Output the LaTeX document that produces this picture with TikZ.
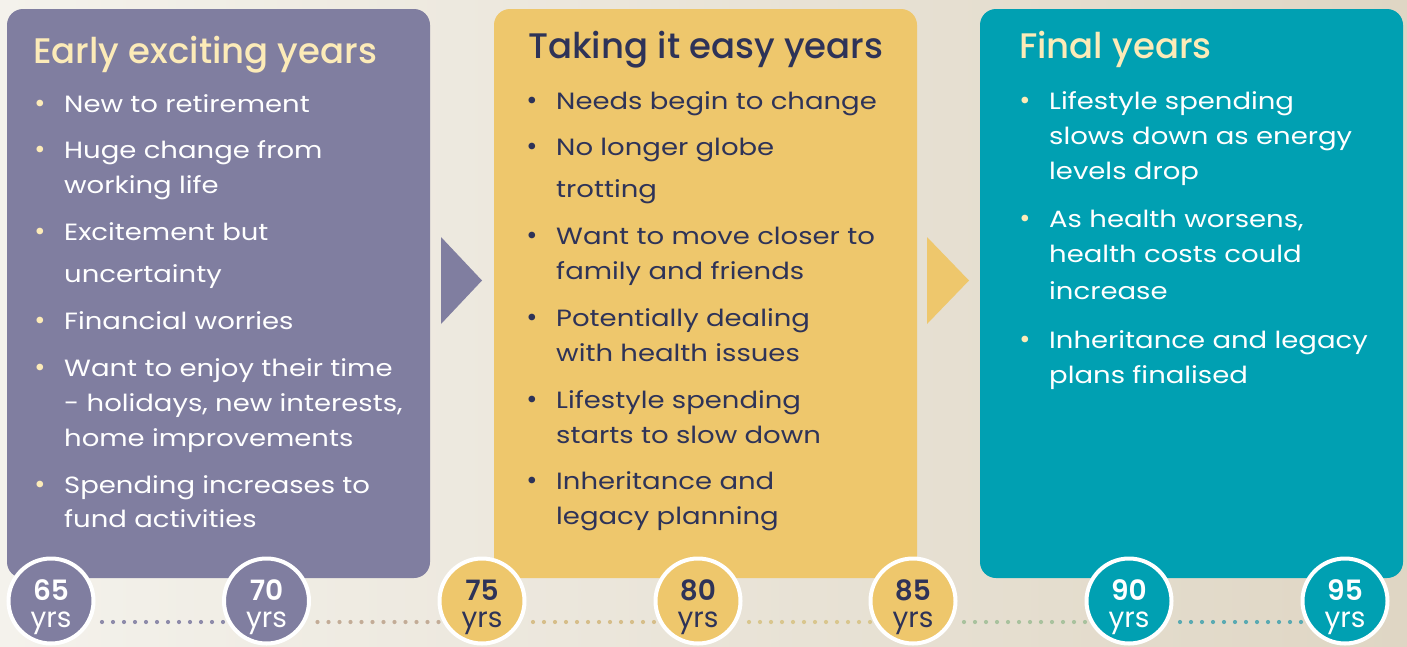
\documentclass[tikz,border=0pt]{standalone}
\usepackage{fontspec}
\setmainfont{Poppins}
\newfontfamily\bodyfont{Poppins}[FakeStretch=1.17]
\newfontfamily\titlefont{Poppins Medium}
\newfontfamily\numfont{Poppins SemiBold}
\usetikzlibrary{calc}
\definecolor{bgL}{HTML}{F4F2EC}
\definecolor{bgR}{HTML}{DFD6C4}
\definecolor{purp}{HTML}{807EA0}
\definecolor{yel}{HTML}{EEC76C}
\definecolor{tealc}{HTML}{00A0B2}
\definecolor{cream}{HTML}{FCEBB8}
\definecolor{navy}{HTML}{2E3358}
\definecolor{d1}{HTML}{8E8BAA}
\definecolor{d2}{HTML}{C3AC97}
\definecolor{d3}{HTML}{D6BE8A}
\definecolor{d4}{HTML}{D9C68E}
\definecolor{d5}{HTML}{A9C29E}
\definecolor{d6}{HTML}{5AAAB2}
\tikzset{
  txt/.style={anchor=base west, inner sep=0pt, font=\bodyfont\fontsize{23.5}{28}\selectfont},
  ttl/.style={anchor=base west, inner sep=0pt, font=\titlefont\fontsize{35.5}{40}\selectfont},
  bul/.style={anchor=base, inner sep=0pt, font=\fontsize{27}{30}\selectfont},
  agec/.style={circle, draw=white, line width=4pt, minimum size=85pt, inner sep=0pt},
  num/.style={anchor=base, inner sep=0pt, font=\numfont\fontsize{28}{30}\selectfont},
  yrs/.style={anchor=base, inner sep=0pt, font=\fontsize{28}{30}\selectfont},
  dots/.style={line width=4.2pt, line cap=round, dash pattern=on 0pt off 11pt},
}
\begin{document}
\begin{tikzpicture}[x=1pt,y=-1pt]
\useasboundingbox (0,0) rectangle (1407,646);
\shade[left color=bgL, right color=bgR] (0,0) rectangle (1407,646);
% boxes
\fill[purp, rounded corners=16pt] (7,9) rectangle (430,578);
\fill[yel, rounded corners=16pt] (494,9) rectangle (917,578);
\fill[yel] (494,300) rectangle (917,578);
\fill[tealc, rounded corners=16pt] (980,9) rectangle (1403,578);
% arrows
\fill[purp] (441,237) -- (482,280.5) -- (441,324) -- cycle;
\fill[yel] (927,237) -- (969,280.5) -- (927,324) -- cycle;
% purple column
\node[ttl, text=cream] (t1) at (33,63) {Early exciting years};
\begin{scope}[every node/.append style={text=white}]
\node[bul, text=cream] (p1b) at (40,112) {•};
\node[txt] (p1) at (64,112) {New to retirement};
\node[bul, text=cream] (p2b) at (40,158.5) {•};
\node[txt] (p2) at (64,158.5) {Huge change from};
\node[txt] (p2c) at (64,193.5) {working life};
\node[bul, text=cream] (p3b) at (40,240.5) {•};
\node[txt] (p3) at (64,240.5) {Excitement but};
\node[txt] (p3c) at (64,282.5) {uncertainty};
\node[bul, text=cream] (p4b) at (40,329.5) {•};
\node[txt] (p4) at (64,329.5) {Financial worries};
\node[bul, text=cream] (p5b) at (40,376.5) {•};
\node[txt] (p5) at (64,376.5) {Want to enjoy their time};
\node[txt] (p5c) at (64,411.5) {- holidays, new interests,};
\node[txt] (p5d) at (64,446.5) {home improvements};
\node[bul, text=cream] (p6b) at (40,493.5) {•};
\node[txt] (p6) at (64,493.5) {Spending increases to};
\node[txt] (p6c) at (64,527.5) {fund activities};
\end{scope}
% yellow column
\node[ttl, text=navy] (t2) at (528,58.5) {Taking it easy years};
\begin{scope}[every node/.append style={text=navy}]
\node[bul] (y1b) at (532,109.5) {•};
\node[txt] (y1) at (556,109.5) {Needs begin to change};
\node[bul] (y2b) at (532,155.5) {•};
\node[txt] (y2) at (556,155.5) {No longer globe};
\node[txt] (y2c) at (556,197.5) {trotting};
\node[bul] (y3b) at (532,244) {•};
\node[txt] (y3) at (556,244) {Want to move closer to};
\node[txt] (y3c) at (556,279) {family and friends};
\node[bul] (y4b) at (532,326) {•};
\node[txt] (y4) at (556,326) {Potentially dealing};
\node[txt] (y4c) at (556,361) {with health issues};
\node[bul] (y5b) at (532,408) {•};
\node[txt] (y5) at (556,408) {Lifestyle spending};
\node[txt] (y5c) at (556,443) {starts to slow down};
\node[bul] (y6b) at (532,489) {•};
\node[txt] (y6) at (556,489) {Inheritance and};
\node[txt] (y6c) at (556,524) {legacy planning};
\end{scope}
% teal column
\node[ttl, text=cream] (t3) at (1019,58.5) {Final years};
\begin{scope}[every node/.append style={text=white}]
\node[bul, text=cream] (g1b) at (1025,109) {•};
\node[txt] (g1) at (1049,109) {Lifestyle spending};
\node[txt] (g1c) at (1049,144.5) {slows down as energy};
\node[txt] (g1d) at (1049,179) {levels drop};
\node[bul, text=cream] (g2b) at (1025,227) {•};
\node[txt] (g2) at (1049,227) {As health worsens,};
\node[txt] (g2c) at (1049,262) {health costs could};
\node[txt] (g2d) at (1049,299) {increase};
\node[bul, text=cream] (g3b) at (1025,348) {•};
\node[txt] (g3) at (1049,348) {Inheritance and legacy};
\node[txt] (g3c) at (1049,383) {plans finalised};
\end{scope}
% dotted timeline
\coordinate (c1) at (51,601);
\coordinate (c2) at (266.5,601);
\coordinate (c3) at (482,601);
\coordinate (c4) at (698,601);
\coordinate (c5) at (913,601);
\coordinate (c6) at (1129,601);
\coordinate (c7) at (1345,601);
\draw[dots, d1] ($(c1)+(51,21)$) -- ($(c2)+(-40,21)$);
\draw[dots, d2] ($(c2)+(51,21)$) -- ($(c3)+(-40,21)$);
\draw[dots, d3] ($(c3)+(51,21)$) -- ($(c4)+(-40,21)$);
\draw[dots, d4] ($(c4)+(51,21)$) -- ($(c5)+(-40,21)$);
\draw[dots, d5] ($(c5)+(51,21)$) -- ($(c6)+(-40,21)$);
\draw[dots, d6] ($(c6)+(51,21)$) -- ($(c7)+(-40,21)$);
% age circles
\node[agec, fill=purp] (a1) at (c1) {};
\node[agec, fill=purp] (a2) at (c2) {};
\node[agec, fill=yel] (a3) at (c3) {};
\node[agec, fill=yel] (a4) at (c4) {};
\node[agec, fill=yel] (a5) at (c5) {};
\node[agec, fill=tealc] (a6) at (c6) {};
\node[agec, fill=tealc] (a7) at (c7) {};
\foreach \c/\n/\col in {1/65/white,2/70/white,3/75/navy,4/80/navy,5/85/navy,6/90/white,7/95/white}{
  \node[num, text=\col] (n\c) at ($(c\c)+(0,-0.3)$) {\n};
  \node[yrs, text=\col] (y\c) at ($(c\c)+(0,26)$) {yrs};
}
\end{tikzpicture}
\end{document}
